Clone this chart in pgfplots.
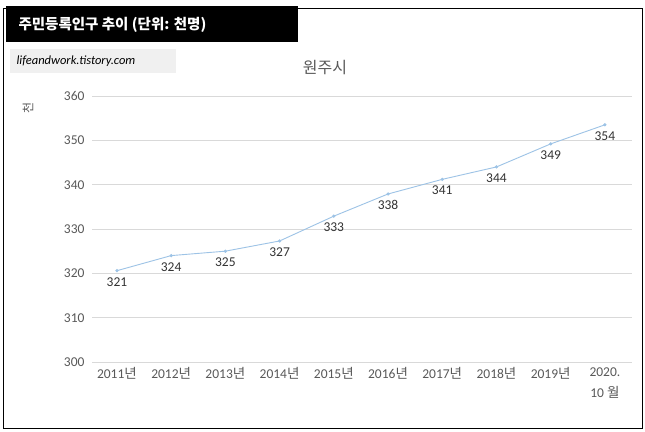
\documentclass[border=0pt]{standalone}
\usepackage{pgfplots}
\pgfplotsset{compat=1.18}
\usepackage{fontspec}
\setmainfont{Carlito}
\newfontfamily\kr{Noto Sans CJK KR}
\definecolor{lineblue}{HTML}{9DC3E6}
\definecolor{txt}{HTML}{595959}
\definecolor{gridc}{HTML}{D9D9D9}
\begin{document}
\begin{tikzpicture}
\path[use as bounding box] (0pt,0pt) rectangle (645pt,-431pt);
\fill[white] (0pt,0pt) rectangle (645pt,-431pt);
\draw[black,line width=0.8pt] (3pt,-8pt) rectangle (642pt,-428pt);
\fill[black] (6pt,-6pt) rectangle (298pt,-42pt);
\node[white,anchor=west,font=\kr\bfseries\fontsize{14.5}{16}\selectfont] at (15pt,-25pt) {주민등록인구 추이 (단위: 천명)};
\fill[black!6] (10pt,-49pt) rectangle (176pt,-73pt);
\node[anchor=west,font=\itshape\fontsize{12.5}{14}\selectfont] at (13pt,-61pt) {lifeandwork.tistory.com};
\node[txt,font=\kr\fontsize{16}{18}\selectfont] at (325pt,-68pt) {원주시};
\node[txt,rotate=90,font=\kr\fontsize{12}{14}\selectfont] at (28pt,-108pt) {천};
\begin{axis}[at={(92pt,-362pt)},anchor=south west,scale only axis,
 width=540pt,height=266pt,
 xmin=-0.46,xmax=9.5,ymin=300,ymax=360,
 ytick={300,310,...,360},
 xtick={0,...,9},
 xticklabels={2011{\kr 년},2012{\kr 년},2013{\kr 년},2014{\kr 년},2015{\kr 년},2016{\kr 년},2017{\kr 년},2018{\kr 년},2019{\kr 년},{2020.\\10 {\kr 월}}},
 xticklabel style={align=center,text=txt,font=\fontsize{13.5}{21}\selectfont,yshift=-2pt},
 yticklabel style={text=txt,font=\fontsize{13.5}{15}\selectfont,xshift=-4pt},
 /pgf/number format/assume math mode=true,
 axis line style={draw=none},
 major tick length=0pt, tick style={draw=none},
 xmajorgrids=false, ymajorgrids=true, grid style={draw=gridc,line width=0.6pt},
 clip=false,
 nodes near coords, point meta=explicit symbolic,
 nodes near coords style={anchor=north,yshift=-3pt,text=black!80,font=\fontsize{13.5}{15}\selectfont},
]
\addplot[lineblue,line width=0.9pt,mark=*,mark size=1.1pt] coordinates {
(0,320.6)[321] (1,324.0)[324] (2,325.0)[325] (3,327.3)[327] (4,332.9)[333]
(5,337.9)[338] (6,341.2)[341] (7,344.0)[344] (8,349.2)[349] (9,353.5)[354]};
\end{axis}
\end{tikzpicture}
\end{document}
